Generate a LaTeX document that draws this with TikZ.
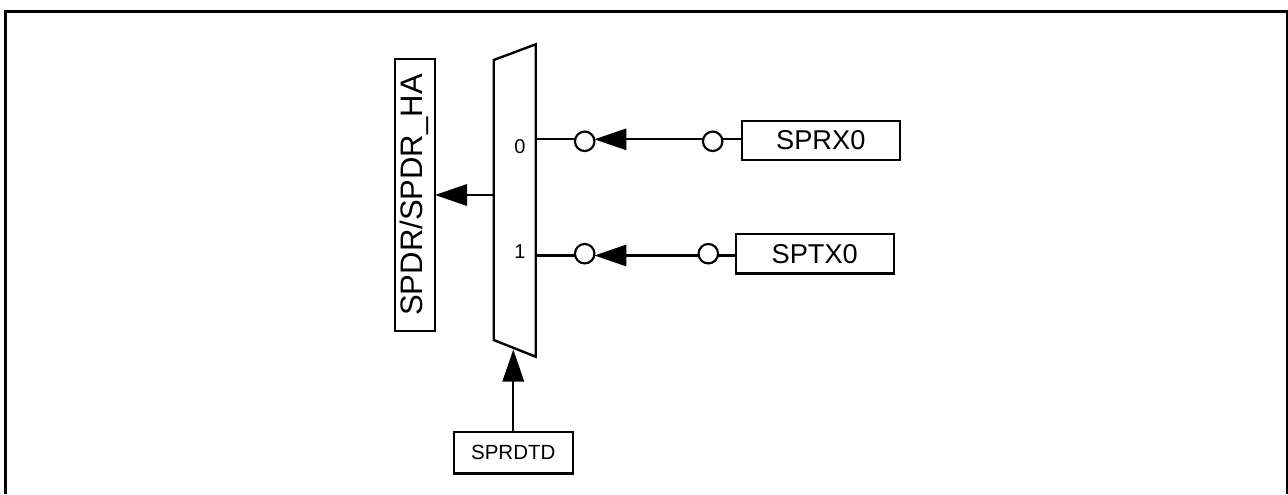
\documentclass[tikz,border=0pt]{standalone}
\usepackage{fontspec}
\setmainfont{Liberation Sans}
\usetikzlibrary{arrows.meta, positioning}
\tikzset{
    regbox/.style={rectangle, draw=black, line width=1.7pt, inner sep=0pt, outer sep=0pt, align=center},
    pincircle/.style={circle, draw=black, line width=1.6pt, fill=white, minimum size=14.6pt, inner sep=0pt, outer sep=0pt},
    arrowline/.style={-{Triangle[length=24pt, width=16pt]}, line width=1.6pt},
    plainline/.style={line width=1.6pt}
}

\begin{document}
\begin{tikzpicture}[x=0.75pt, y=-0.75pt]
  \useasboundingbox (0,0) rectangle (1288,494);
  \draw[line width=2.1pt] (5.3,494) -- (5.3,11.5) -- (1287.5,11.5) -- (1287.5,494);
  % mux corners and pins
  \coordinate (tl) at (493.7,60);
  \coordinate (tr) at (535.7,44.3);
  \coordinate (br) at (535.7,356.7);
  \coordinate (bl) at (493.7,340);
  \coordinate (in0) at (535.7,139.3);
  \coordinate (in1) at (535.7,255.5);
  \coordinate (muxout) at (493.7,195);
  \coordinate (muxsel) at (513.3,349.5);
  \draw[line width=1.8pt, line join=miter] (tl) -- (tr) -- (br) -- (bl) -- cycle;
  \node[font=\fontsize{15pt}{17pt}\selectfont] (lab0) at (520,147) {0};
  \node[font=\fontsize{15pt}{17pt}\selectfont] (lab1) at (520,252) {1};
  \node[regbox, minimum width=203.5pt, minimum height=30pt, text height=16.7pt, text depth=6pt, font=\fontsize{23.3pt}{26pt}\selectfont, rotate=90] (spdr) at (415,195) {SPDR/SPDR\_HA};
  \node[regbox, minimum width=118.5pt, minimum height=29.5pt, font=\fontsize{20.4pt}{24pt}\selectfont] (sprx) at (820.8,140.6) {SPRX0};
  \node[regbox, minimum width=118.5pt, minimum height=29.5pt, font=\fontsize{20.4pt}{24pt}\selectfont] (sptx) at (814.7,253.8) {SPTX0};
  \node[regbox, minimum width=89pt, minimum height=31pt, font=\fontsize{15.4pt}{18pt}\selectfont] (sprdtd) at (513.3,452.7) {SPRDTD};
  \node[pincircle] (cl0) at (584.7,141.3) {};
  \node[pincircle] (cr0) at (712.7,141.3) {};
  \node[pincircle] (cl1) at (584.7,253.7) {};
  \node[pincircle] (cr1) at (708.3,253.7) {};
  \draw[plainline] (in0) -- (cl0.west |- in0);
  \draw[plainline] (in1) -- (cl1.west |- in1);
  \draw[arrowline] (cr0.west |- in0) -- (cl0.east |- in0);
  \draw[arrowline] (cr1.west |- in1) -- (cl1.east |- in1);
  \draw[plainline] (sprx.west |- in0) -- (cr0.east |- in0);
  \draw[plainline] (sptx.west |- in1) -- (cr1.east |- in1);
  \draw[arrowline] (muxout) -- (spdr.south);
  \draw[arrowline] (sprdtd.north -| muxsel) -- (muxsel);
\end{tikzpicture}
\end{document}
